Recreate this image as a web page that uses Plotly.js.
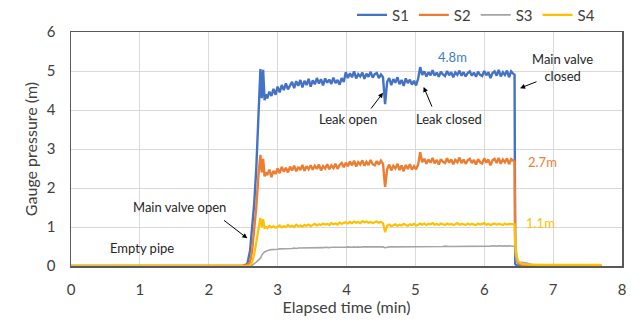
<!DOCTYPE html>
<html>
<head>
<meta charset="utf-8">
<script src="https://cdn.plot.ly/plotly-3.0.1.min.js"></script>
<style>html,body{margin:0;padding:0;background:#fff;}#chart{width:643px;height:324px;}</style>
</head>
<body>
<div id="chart"></div>
<script>
// Elapsed time (min)
var timeMin = [
0, 0.5, 1.0, 1.5, 2.0, 2.5, 2.56, 2.6, 2.63, 2.66, 2.69, 2.72, 2.75, 2.77, 2.79, 2.81, 2.83,
2.85, 2.88, 2.91, 2.94, 2.97, 3.00, 3.03, 3.06, 3.09, 3.12,
3.15, 3.18, 3.21, 3.24, 3.27, 3.30, 3.33, 3.36, 3.39, 3.42,
3.45, 3.48, 3.51, 3.54, 3.57, 3.60, 3.63, 3.66, 3.69, 3.72,
3.75, 3.78, 3.81, 3.84, 3.87, 3.90, 3.93, 3.96, 3.99, 4.02,
4.05, 4.08, 4.11, 4.14, 4.17, 4.20, 4.23, 4.26, 4.29, 4.32,
4.35, 4.38, 4.41, 4.44, 4.47, 4.50, 4.53, 4.56, 4.59, 4.62,
4.65, 4.68, 4.71, 4.74, 4.77, 4.80, 4.83, 4.86, 4.89, 4.92,
4.95, 4.98, 5.01, 5.04, 5.07, 5.10, 5.13, 5.16, 5.19, 5.22,
5.25, 5.28, 5.31, 5.34, 5.37, 5.40, 5.43, 5.46, 5.49, 5.52,
5.55, 5.58, 5.61, 5.64, 5.67, 5.70, 5.73, 5.76, 5.79, 5.82,
5.85, 5.88, 5.91, 5.94, 5.97, 6.00, 6.03, 6.06, 6.09, 6.12,
6.15, 6.18, 6.21, 6.24, 6.27, 6.30, 6.33, 6.36, 6.39, 6.42,
6.44, 6.45, 6.47, 6.5, 6.55, 6.6, 6.7, 6.8, 7.0, 7.3, 7.7
];

var s1 = [
0,0,0,0,0,0.01,0.05,0.4,1.0,1.6,2.5,3.6,5.05,4.3,5.03,4.25,4.4,
4.3, 4.47, 4.36, 4.54, 4.39,
4.6, 4.45, 4.64, 4.51, 4.68, 4.53, 4.62,
4.72, 4.56, 4.74, 4.62, 4.77, 4.58, 4.75, 4.64, 4.8, 4.6,
4.76, 4.66, 4.82, 4.68, 4.79, 4.63, 4.81, 4.7, 4.78, 4.67, 4.83, 4.69, 4.77, 4.65, 4.82, 4.72,
4.97, 4.82, 4.94, 4.84, 4.99, 4.81, 4.92, 4.86, 4.96, 4.8, 4.93, 4.85, 4.98, 4.83, 4.92, 4.95, 4.82, 4.91, 4.84,
4.15,
4.72, 4.82, 4.64, 4.79, 4.7, 4.84, 4.66, 4.77, 4.62, 4.81, 4.69, 4.78, 4.65, 4.75, 4.63, 4.8,
5.1,
4.9, 4.99, 4.86, 4.97, 4.89, 5.02, 4.88, 4.96, 4.85, 4.98,
4.91, 4.87, 5.0, 4.89, 4.97, 4.84, 4.96, 4.9, 5.01, 4.88,
4.97, 4.86, 4.95, 4.99, 4.88, 4.96, 4.85, 4.98, 4.9, 4.87,
5.0, 4.89, 4.97, 4.82, 4.95, 4.99, 4.88, 5.03, 4.86, 4.97,
4.9, 5.01, 4.84, 4.99, 4.93,
4.9, 0.05, 0.02, 0.01, 0, 0, 0, 0, 0, 0, 0
];

var s2 = [
0,0,0,0,0,0,0.02,0.1,0.4,0.9,1.5,2.3,2.85,2.4,2.75,2.3,2.4,
2.33, 2.47, 2.28, 2.44, 2.36,
2.5, 2.38, 2.54, 2.42, 2.52, 2.4, 2.55,
2.45, 2.57, 2.43, 2.54, 2.46, 2.59, 2.44, 2.56, 2.48, 2.58,
2.47, 2.57, 2.49, 2.6, 2.45, 2.56, 2.5, 2.61, 2.48, 2.58, 2.51, 2.62, 2.49, 2.59, 2.64, 2.53,
2.65, 2.56, 2.68, 2.58, 2.7, 2.55, 2.66, 2.6, 2.71, 2.57, 2.67, 2.59, 2.72, 2.61, 2.58, 2.69, 2.6, 2.7, 2.62,
2.03,
2.48, 2.6, 2.45, 2.57, 2.5, 2.62, 2.46, 2.58, 2.43, 2.59, 2.49, 2.61, 2.47, 2.56, 2.48, 2.6,
2.92,
2.66, 2.75, 2.62, 2.73, 2.65, 2.77, 2.63, 2.72, 2.6, 2.74,
2.67, 2.64, 2.76, 2.65, 2.73, 2.61, 2.72, 2.66, 2.78, 2.64,
2.73, 2.62, 2.71, 2.75, 2.64, 2.72, 2.6, 2.74, 2.66, 2.63,
2.76, 2.65, 2.73, 2.58, 2.71, 2.75, 2.64, 2.77, 2.62, 2.73,
2.66, 2.76, 2.61, 2.74, 2.69,
2.68, 0.5, 0.15, 0.05, 0.02, 0.01, 0, 0, 0, 0, 0
];

var s3 = [
0,0,0,0,0,0,0,0,0.02,0.05,0.1,0.15,0.2,0.28,0.33,0.36,0.38,
0.4, 0.41, 0.42, 0.42, 0.43, 0.43, 0.44, 0.44, 0.44, 0.45,
0.45, 0.45, 0.45, 0.46, 0.45, 0.46, 0.46, 0.46, 0.46, 0.46,
0.46, 0.47, 0.46, 0.47, 0.47, 0.47, 0.47, 0.47, 0.48, 0.47,
0.47, 0.48, 0.48, 0.47, 0.48, 0.48, 0.48, 0.48, 0.48, 0.49,
0.48, 0.48, 0.49, 0.48, 0.49, 0.48, 0.49, 0.49, 0.49, 0.49,
0.49, 0.49, 0.48, 0.49, 0.49, 0.49, 0.49, 0.47, 0.49, 0.49,
0.49, 0.49, 0.49, 0.49, 0.5, 0.49, 0.49, 0.49, 0.5, 0.49,
0.49, 0.5, 0.49, 0.5, 0.5, 0.5, 0.5, 0.49, 0.5, 0.5,
0.5, 0.5, 0.5, 0.5, 0.5, 0.5, 0.51, 0.5, 0.5, 0.5,
0.5, 0.51, 0.5, 0.5, 0.51, 0.5, 0.51, 0.51, 0.5, 0.51,
0.51, 0.51, 0.51, 0.5, 0.51, 0.51, 0.51, 0.51, 0.51, 0.52,
0.51, 0.51, 0.52, 0.51, 0.51, 0.52, 0.51, 0.52, 0.51, 0.51,
0.5, 0.3, 0.12, 0.1, 0.09, 0.08, 0.03, 0.02, 0.02, 0.02, 0.02
];

var s4 = [
0,0,0,0,0,0.01,0.01,0.02,0.1,0.3,0.6,0.9,1.23,1.0,1.2,0.98,1.0,
0.97, 1.03, 0.99, 1.02, 0.98,
1.01, 1.04, 0.99, 1.02, 1.0, 1.05, 1.01,
1.03, 1.0, 1.06, 1.02, 1.04, 1.01, 1.05, 1.03, 1.06, 1.02,
1.05, 1.08, 1.04, 1.07, 1.05, 1.09, 1.06, 1.08, 1.05, 1.1, 1.07, 1.09, 1.06, 1.11, 1.08, 1.1,
1.12, 1.09, 1.13, 1.1, 1.14, 1.11, 1.13, 1.1, 1.15, 1.12, 1.14, 1.11, 1.13, 1.1, 1.12, 1.14, 1.11, 1.13, 1.1,
0.87,
1.03, 1.06, 1.02, 1.05, 1.07, 1.03, 1.06, 1.04, 1.08, 1.05, 1.03, 1.07, 1.05, 1.08, 1.04, 1.06,
1.09,
1.06, 1.09, 1.05, 1.08, 1.07, 1.1, 1.06, 1.08, 1.05, 1.09,
1.07, 1.05, 1.09, 1.06, 1.08, 1.05, 1.07, 1.1, 1.06, 1.08,
1.07, 1.05, 1.09, 1.06, 1.08, 1.07, 1.05, 1.09, 1.06, 1.08,
1.1, 1.06, 1.08, 1.05, 1.07, 1.09, 1.06, 1.08, 1.07, 1.05,
1.09, 1.06, 1.08, 1.07, 1.06,
1.07, 0.55, 0.25, 0.1, 0.05, 0.04, 0.03, 0.03, 0.03, 0.03, 0.03
];

var seriesNames = ['S1', 'S2', 'S3', 'S4'];
var seriesValues = [s1, s2, s3, s4];
var seriesColors = ['#4472C4', '#ED7D31', '#A5A5A5', '#FFC000'];
var seriesWidths = [2.4, 2.4, 1.6, 2.2];

var xTicks = [0, 1, 2, 3, 4, 5, 6, 7, 8];
var yTicks = [0, 1, 2, 3, 4, 5, 6];

var traces = seriesNames.map(function (n, i) {
  return {
    x: timeMin, y: seriesValues[i], name: n, type: 'scatter', mode: 'lines',
    line: {color: seriesColors[i], width: seriesWidths[i]}
  };
});

var FONT = 'Lato, "Open Sans", sans-serif';
function txt(text, x, y, color) {
  return {text: text, x: x, y: y, xref: 'x', yref: 'y', showarrow: false,
    font: {family: FONT, size: 13, color: color || '#262626'}};
}
function arr(x0, y0, x1, y1) {
  return {text: '', x: x1, y: y1, ax: x0, ay: y0, xref: 'x', yref: 'y', axref: 'x', ayref: 'y',
    showarrow: true, arrowhead: 2, arrowsize: 1, arrowwidth: 1, arrowcolor: '#000'};
}

var annotations = [
  txt('Empty pipe', 1.03, 0.46),
  txt('Main valve open', 1.58, 1.51),
  txt('Leak open', 4.02, 3.77),
  txt('Leak closed', 5.49, 3.77),
  txt('4.8m', 5.54, 5.36, '#3D7CC9'),
  txt('Main valve<br>closed', 7.14, 5.08),
  txt('2.7m', 6.85, 2.67, '#ED7D31'),
  txt('1.1m', 6.81, 1.1, '#FFC000'),
  arr(2.2, 1.2, 2.56, 0.71),
  arr(4.34, 4.0, 4.53, 4.44),
  arr(5.25, 4.05, 5.12, 4.59),
  arr(6.78, 4.74, 6.52, 4.56)
];

var layout = {
  width: 643, height: 324,
  margin: {l: 71, r: 21, t: 32, b: 58, autoexpand: false},
  paper_bgcolor: '#fff', plot_bgcolor: '#fff',
  font: {family: FONT, size: 14, color: '#404040'},
  showlegend: true,
  legend: {orientation: 'h', x: 0.51, xanchor: 'left', y: 1.072, yanchor: 'middle',
    font: {family: FONT, size: 15, color: '#404040'}, bgcolor: 'rgba(0,0,0,0)'},
  xaxis: {range: [0, 8], tickvals: xTicks, showgrid: true, gridcolor: '#D9D9D9', gridwidth: 1,
    zeroline: false, showline: true, linecolor: '#595959', linewidth: 1.5, mirror: true,
    ticks: 'outside', ticklen: 9, tickcolor: 'rgba(0,0,0,0)', fixedrange: true,
    tickfont: {family: FONT, size: 15, color: '#404040'},
    title: {text: 'Elapsed time (min)', font: {family: FONT, size: 16, color: '#404040'}, standoff: 1}},
  yaxis: {range: [0, 6], tickvals: yTicks, showgrid: true, gridcolor: '#D9D9D9', gridwidth: 1,
    zeroline: false, showline: true, linecolor: '#595959', linewidth: 1.5, mirror: true,
    ticks: 'outside', ticklen: 11, tickcolor: 'rgba(0,0,0,0)', fixedrange: true,
    tickfont: {family: FONT, size: 15, color: '#404040'},
    title: {text: 'Gauge pressure (m)', font: {family: FONT, size: 16, color: '#404040'}, standoff: 5}},
  annotations: annotations
};

Plotly.newPlot('chart', traces, layout, {displayModeBar: false, staticPlot: true});
</script>
</body>
</html>
